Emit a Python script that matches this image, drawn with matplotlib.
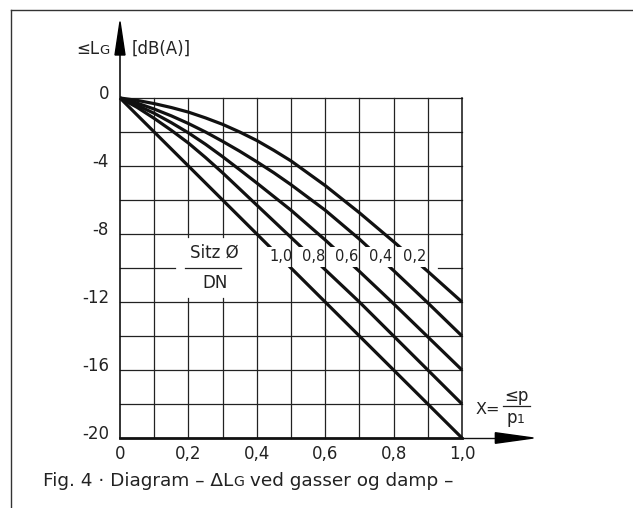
import matplotlib
matplotlib.use("Agg")
import matplotlib.pyplot as plt
from matplotlib.patches import Rectangle, Polygon

# === DATA ===
x_pts = [0, 0.05, 0.1, 0.15, 0.2, 0.25, 0.3, 0.35, 0.4, 0.45, 0.5, 0.6, 0.7, 0.8, 0.9, 1.0]
ratio_labels = ['1,0', '0,8', '0,6', '0,4', '0,2']
curves = {
    '1,0': [0, -1.0, -2.0, -3.0, -4.0, -5.0, -6.0, -7.0, -8.0, -9.0, -10.0, -12.0, -14.0, -16.0, -18.0, -20.0],
    '0,8': [0, -0.55, -1.2, -1.9, -2.65, -3.5, -4.4, -5.35, -6.3, -7.25, -8.2, -10.1, -12.0, -14.0, -16.0, -18.0],
    '0,6': [0, -0.43, -0.9, -1.45, -2.05, -2.72, -3.45, -4.22, -5.0, -5.8, -6.6, -8.35, -10.2, -12.1, -14.05, -16.0],
    '0,4': [0, -0.3, -0.65, -1.05, -1.5, -2.0, -2.55, -3.13, -3.75, -4.4, -5.1, -6.6, -8.3, -10.15, -12.05, -14.0],
    '0,2': [0, -0.14, -0.33, -0.56, -0.83, -1.17, -1.55, -2.0, -2.5, -3.08, -3.7, -5.15, -6.75, -8.45, -10.2, -12.0],
}
label_x = [0.471, 0.567, 0.664, 0.762, 0.862]
label_y = -9.32

x_ticks = [0, 0.2, 0.4, 0.6, 0.8, 1.0]
x_ticklabels = ['0', '0,2', '0,4', '0,6', '0,8', '1,0']
y_ticks = [0, -4, -8, -12, -16, -20]
y_ticklabels = ['0', '-4', '-8', '-12', '-16', '-20']
grid_x = [0.1, 0.2, 0.3, 0.4, 0.5, 0.6, 0.7, 0.8, 0.9]
grid_y = [-2, -4, -6, -8, -10, -12, -14, -16, -18]

plt.rcParams['font.family'] = ['DejaVu Sans']
TXT = '#222222'

W, H = 633, 508
fig = plt.figure(figsize=(W / 100, H / 100), dpi=100)


def fx(p):
    return p / W


def fy(p):
    return 1 - p / H


# axes: x 0..1 -> px 120..462, y 0..-20 -> px 98..438
ax = fig.add_axes([fx(120), fy(438), fx(462) - fx(120), fy(98) - fy(438)])
ax.set_xlim(0, 1)
ax.set_ylim(-20, 0)
ax.axis('off')

grid_kw = dict(color='#222222', lw=0.9, clip_on=False, zorder=1)

# === GRID ===
for gx in grid_x:
    if gx in (0.2, 0.3):
        ax.plot([gx, gx], [0, -8.2], **grid_kw)
        ax.plot([gx, gx], [-11.75, -20], **grid_kw)
    else:
        ax.plot([gx, gx], [0, -20], **grid_kw)
for gy in grid_y:
    if gy == -10:
        ax.plot([0, 0.161], [gy, gy], **grid_kw)
        ax.plot([0.93, 1.0], [gy, gy], **grid_kw)
    else:
        ax.plot([0, 1], [gy, gy], **grid_kw)
ax.plot([0, 1], [0, 0], **grid_kw)
ax.plot([1, 1], [0, -20], color='#111111', lw=1.1, clip_on=False, zorder=1)

# === AXES WITH ARROWS ===
ax.plot([0, 0], [-20, 3.0], color='#111111', lw=1.2, clip_on=False, zorder=2)
ax.add_patch(Polygon([[-0.0146, 2.53], [0.0146, 2.53], [0, 4.49]], closed=True,
                     color='black', clip_on=False, zorder=3))
ax.plot([0, 1], [-20, -20], color='#111111', lw=2.0, clip_on=False, zorder=2)
ax.plot([1, 1.1], [-20, -20], color='#111111', lw=1.0, clip_on=False, zorder=2)
ax.add_patch(Polygon([[1.0975, -19.69], [1.0975, -20.31], [1.2087, -20]], closed=True,
                     color='black', clip_on=False, zorder=3))

# === CURVES (broken where the labels sit) ===
upper = Rectangle((-0.2, -8.75), 1.5, 12, transform=ax.transData)
lower = Rectangle((-0.2, -30), 1.5, 30 - 9.95, transform=ax.transData)
for name in ratio_labels:
    for clip in (upper, lower):
        ln, = ax.plot(x_pts, curves[name], color='#111111', lw=2.3,
                      solid_capstyle='butt', solid_joinstyle='round', zorder=4)
        ln.set_clip_box(None)
        ln.set_clip_path(clip)

for name, lx in zip(ratio_labels, label_x):
    ax.text(lx, label_y, name, ha='center', va='center', fontsize=10.5, color=TXT)

# === TICK LABELS ===
for t, s in zip(x_ticks, x_ticklabels):
    ax.text(t, -20.4, s, ha='center', va='top', fontsize=12, color=TXT)
for t, s in zip(y_ticks, y_ticklabels):
    ax.text(-0.032, t + 0.25, s, ha='right', va='center', fontsize=12, color=TXT)

renderer = fig.canvas.get_renderer()


def chain(x, y, pieces, va='baseline'):
    # place text pieces one after another, x/y in pixels
    for s, size in pieces:
        t = fig.text(fx(x), fy(y), s, fontsize=size, va=va, ha='left', color=TXT)
        bb = t.get_window_extent(renderer)
        x = bb.x1


# y-axis label
chain(76, 54, [('≤L', 12), ('G', 9.5)])
fig.text(fx(132), fy(54), '[dB(A)]', fontsize=12, ha='left', va='baseline', color=TXT)

# x-axis label
fig.text(fx(500), fy(413.5), 'X=', fontsize=11.5, ha='right', va='baseline', color=TXT)
fig.text(fx(516.5), fy(401), '≤p', fontsize=12, ha='center', va='baseline', color=TXT)
fig.add_artist(plt.Line2D([fx(503), fx(530)], [fy(406), fy(406)], color=TXT, lw=0.9))
chain(506, 423, [('p', 12), ('1', 9)])

# Sitz / DN fraction
fig.text(fx(214), fy(258), 'Sitz Ø', fontsize=12, ha='center', va='baseline', color=TXT)
fig.add_artist(plt.Line2D([fx(185), fx(241)], [fy(267.7), fy(267.7)], color=TXT, lw=0.9))
fig.text(fx(215), fy(288), 'DN', fontsize=12, ha='center', va='baseline', color=TXT)

# caption
chain(43, 486.5, [('Fig. 4 · Diagram – ΔL', 13.3), ('G', 10.2), (' ved gasser og damp –', 13.3)])

# frame
fig.add_artist(plt.Line2D([fx(11), fx(633)], [fy(10.3), fy(10.3)], color='#333333', lw=1.0))
fig.add_artist(plt.Line2D([fx(11), fx(11)], [fy(10.3), fy(508)], color='#333333', lw=1.0))

fig.savefig('out.png', dpi=100)
